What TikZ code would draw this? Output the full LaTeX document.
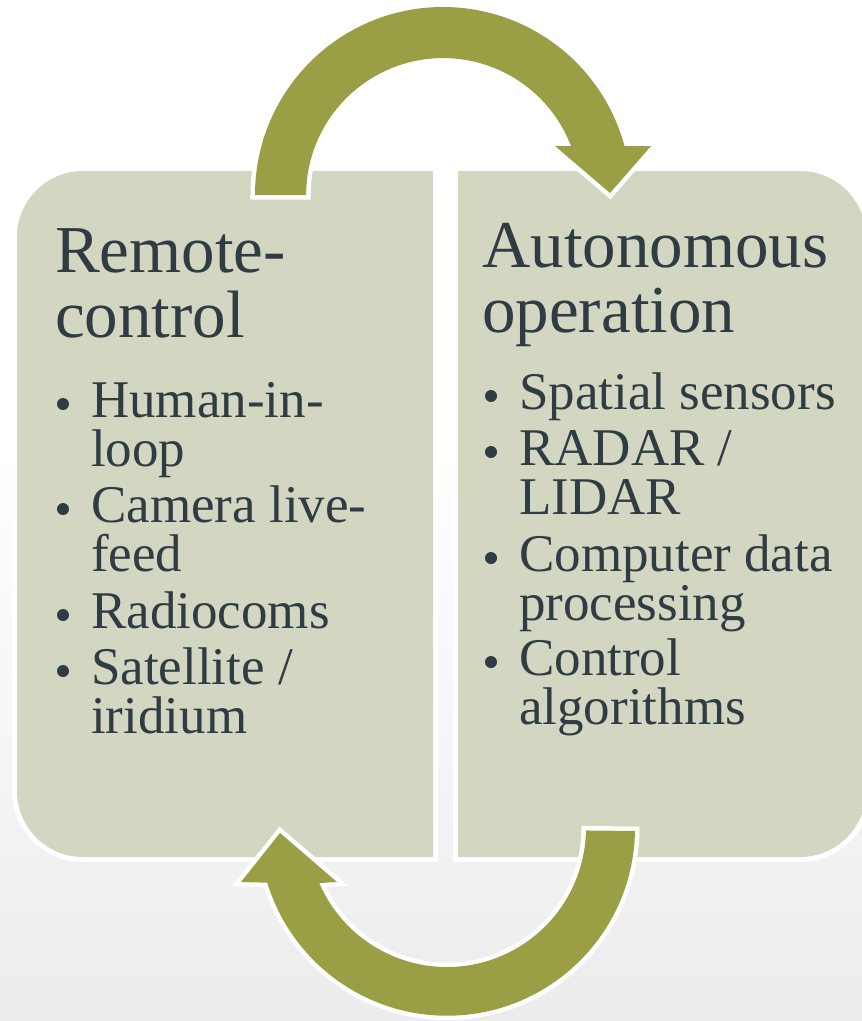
\documentclass[tikz,border=0pt]{standalone}
\usepackage{fontspec}
\setmainfont{Liberation Serif}
\definecolor{boxfill}{HTML}{D3D6C1}
\definecolor{arrowcol}{HTML}{9A9F46}
\definecolor{inkcol}{HTML}{2F3C44}
\definecolor{bggray}{HTML}{EBECEB}

\begin{document}
\begin{tikzpicture}[x=1pt,y=-1pt,
        panel/.style={fill=boxfill, preaction={draw=white, line width=10pt}},
        loopshape/.style={fill=arrowcol, preaction={draw=white, line width=9pt, line join=miter}},
        title/.style={anchor=base west, align=left, inner sep=0, text=inkcol, font=\fontsize{67}{65}\selectfont},
        item/.style={anchor=base west, align=left, inner sep=0, text=inkcol, font=\fontsize{53}{49}\selectfont},
        dot/.style={circle, fill=inkcol, inner sep=0, minimum size=12pt}]
        \useasboundingbox (0,0) rectangle (862,1021);
        \fill[white] (0,0) rectangle (862,1021);
        \shade[top color=white, bottom color=bggray] (0,450) rectangle (862,1021);

        % the two panels
        \path[panel] (433,171) -- (83,171) arc[start angle=90, end angle=180, radius=66pt]
                -- (17,791) arc[start angle=180, end angle=270, radius=66pt] -- (433,857) -- cycle;
        \path[panel] (458,171) -- (800,171) arc[start angle=90, end angle=0, radius=66pt]
                -- (866,791) arc[start angle=0, end angle=-90, radius=66pt] -- (458,857) -- cycle;

        % circular arrows
        \path[loopshape] (255,195) arc[start angle=180, end angle=15.1, radius=188pt]
                -- (651,146) -- (610,193) -- (555,146) -- (571,146)
                arc[start angle=21, end angle=180, radius=137pt] -- cycle;
        \path[loopshape] (635,831) arc[start angle=-1, end angle=-163, radius=188pt]
                -- (241,882) -- (280,833) -- (337,882) -- (319.3,883)
                arc[start angle=-156.7, end angle=-1, radius=139pt] -- cycle;

        % texts (placed on the baseline of their last line)
        \node[title] (rc) at (55,337) {Remote-\\control};
        \node[title] (ao) at (482,332) {Autonomous\\operation};

        \node[item] (hum) at (91,466) {Human-in-\\loop};
        \node[item] (cam) at (91,571) {Camera live-\\feed};
        \node[item] (rad) at (91,628) {Radiocoms};
        \node[item] (sat) at (91,733) {Satellite /\\iridium};

        \node[item] (spa) at (519,409) {Spatial sensors};
        \node[item] (lid) at (519,514) {RADAR /\\LIDAR};
        \node[item] (cdp) at (519,620) {Computer data\\processing};
        \node[item] (alg) at (519,724) {Control\\algorithms};

        \foreach \n/\k in {hum/1,cam/1,rad/0,sat/1,spa/0,lid/1,cdp/1,alg/1}
                \node[dot] (d-\n) at ([shift={(-28,-13-49*\k)}]\n.base west) {};
\end{tikzpicture}
\end{document}
